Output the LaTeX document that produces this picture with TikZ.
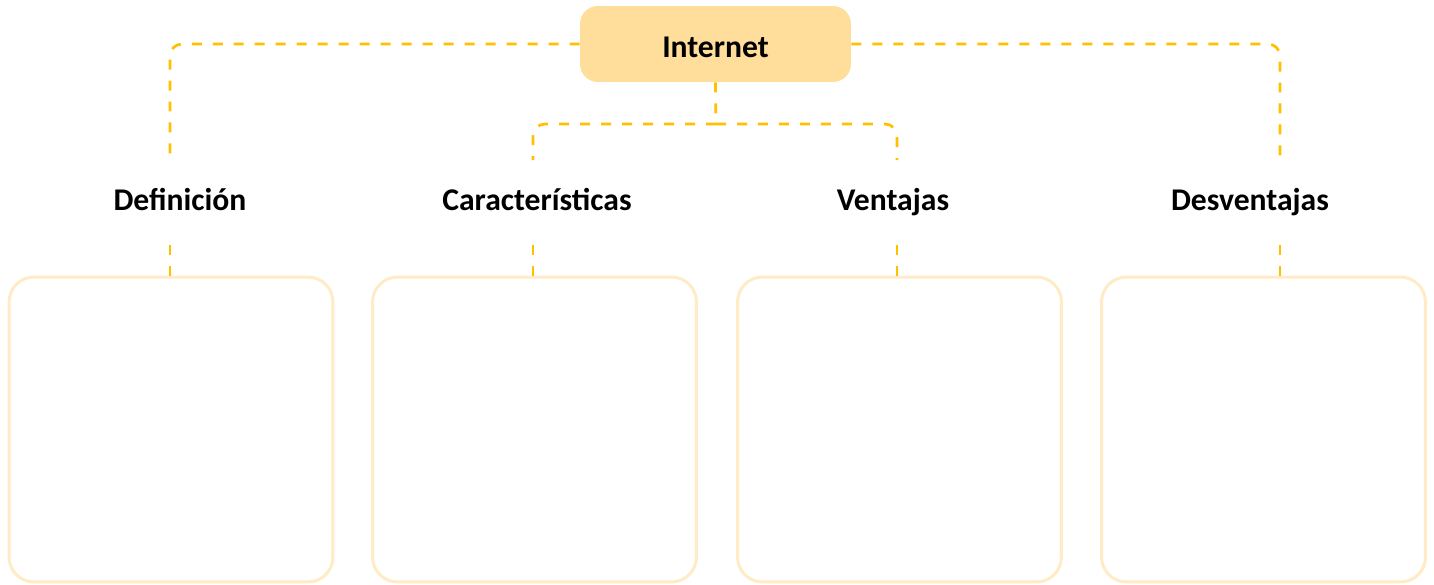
\documentclass[tikz,border=0pt]{standalone}
\usepackage{fontspec}
\setmainfont{Carlito}
\usepackage{tikz}
\usetikzlibrary{positioning,calc}
\usepackage{xcolor}
\definecolor{gold}{HTML}{FFC000}
\definecolor{topfill}{HTML}{FEDE9A}
\definecolor{boxline}{HTML}{FFEBC6}
\tikzset{
  root/.style={fill=topfill,rounded corners=0.36cm,minimum width=5.42cm,
    minimum height=1.52cm,text height=0.56cm,font=\fontsize{18}{22}\selectfont\bfseries},
  heading/.style={anchor=base,inner sep=0pt,font=\fontsize{18}{22}\selectfont\bfseries},
  panel/.style={draw=boxline,line width=0.06cm,rounded corners=0.5cm,
    minimum width=6.48cm,minimum height=6.1cm},
  link/.style={draw=gold,line width=0.055cm,dash pattern=on 0.2cm off 0.22cm,rounded corners=0.24cm}
}
\begin{document}
\begin{tikzpicture}[x=0.02cm,y=-0.02cm]
        \useasboundingbox (0,0) rectangle (1434,585);
        \node[root] (inet) at (715.5,44) {Internet};
        \node[heading] (def) at (180,210) {Definición};
        \node[heading] (car) at (537,210) {Características};
        \node[heading] (ven) at (893,210) {Ventajas};
        \node[heading] (des) at (1250,210) {Desventajas};
        \node[panel] (bdef) at (171,429.5) {};
        \node[panel] (bcar) at (534.5,429.5) {};
        \node[panel] (bven) at (899.5,429.5) {};
        \node[panel] (bdes) at (1263.5,429.5) {};
        % line ends above and below the headings
        \coordinate (tdef) at (170,160);  \coordinate (ldef) at (170,236);
        \coordinate (tcar) at (533,160);  \coordinate (lcar) at (533,236);
        \coordinate (tven) at (897,160);  \coordinate (lven) at (897,236);
        \coordinate (tdes) at (1280,160); \coordinate (ldes) at (1280,236);
        \coordinate (hub) at (716,124);
        \draw[link] (inet.west) -| (tdef);
        \draw[link] (inet.east) -| (tdes);
        \draw[link] (inet.south) -- (hub);
        \draw[link] (hub) -| (tcar);
        \draw[link] (hub) -| (tven);
        \foreach \l/\b in {ldef/bdef,lcar/bcar,lven/bven,ldes/bdes}
          \draw[link,rounded corners=0pt] (\l |- \b.north) -- (\l);
      \end{tikzpicture}
\end{document}
